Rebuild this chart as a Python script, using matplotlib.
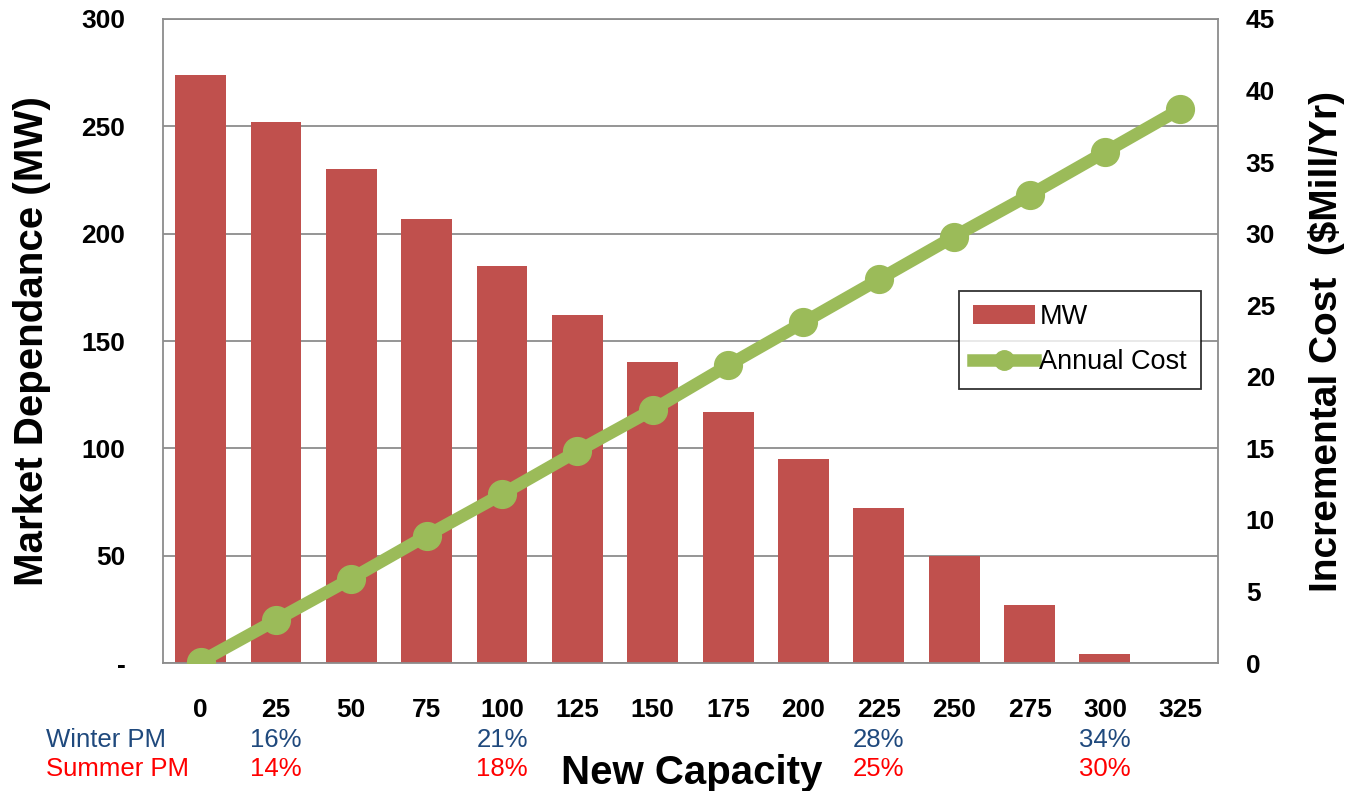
import matplotlib.pyplot as plt
from matplotlib.ticker import FuncFormatter
import numpy as np

plt.rcParams['font.family'] = ['Liberation Sans', 'DejaVu Sans']

# Data
capacity = ['0', '25', '50', '75', '100', '125', '150', '175', '200', '225', '250', '275', '300', '325']
mw = [274, 252, 230, 207, 185, 162, 140, 117, 95, 72, 50, 27, 4, 0]
annual_cost = [0.1, 3.0, 5.9, 8.9, 11.8, 14.8, 17.7, 20.8, 23.8, 26.8, 29.8, 32.7, 35.7, 38.7]

pm_idx = [1, 4, 9, 12]
winter_pm = ['16%', '21%', '28%', '34%']
summer_pm = ['14%', '18%', '25%', '30%']

bar_color = '#C0504D'
line_color = '#9BBB59'
grid_color = '#8C8C8C'

fig = plt.figure(figsize=(13.5, 7.91), dpi=100)
ax = fig.add_axes([0.1207, 0.1618, 0.7815, 0.8142])
x = np.arange(len(capacity))

bars = ax.bar(x, mw, width=0.675, color=bar_color, label='MW', zorder=2)
ax.set_xlim(-0.5, len(capacity) - 0.5)
ax.set_ylim(0, 300)
ax.set_yticks(np.arange(0, 301, 50))
ax.yaxis.set_major_formatter(FuncFormatter(lambda v, p: '-' if v == 0 else '%d' % v))
ax.set_xticks(x)
ax.set_xticklabels(capacity)
ax.grid(axis='y', color=grid_color, linewidth=1.3, zorder=0)
ax.set_axisbelow(True)
for s in ax.spines.values():
    s.set_color(grid_color)
    s.set_linewidth(1.3)
ax.tick_params(axis='both', length=0, labelsize=19)
ax.tick_params(axis='x', pad=25)
ax.tick_params(axis='y', pad=27)
for lab in ax.get_xticklabels() + ax.get_yticklabels():
    lab.set_fontweight('bold')
ax.set_ylabel('Market Dependance (MW)', fontsize=29, fontweight='bold', labelpad=22)

ax2 = ax.twinx()
line, = ax2.plot(x, annual_cost, color=line_color, linewidth=9, marker='o',
                 markersize=20, label='Annual Cost', zorder=3)
ax2.set_ylim(0, 45)
ax2.set_yticks(np.arange(0, 46, 5))
ax2.tick_params(axis='y', length=0, labelsize=19, pad=20)
for lab in ax2.get_yticklabels():
    lab.set_fontweight('bold')
for s in ax2.spines.values():
    s.set_visible(False)
ax2.set_ylabel('Incremental Cost  ($Mill/Yr)', fontsize=28, fontweight='bold', labelpad=24)

leg = ax2.legend([bars, line], ['MW', 'Annual Cost'], loc='upper left',
                 bbox_to_anchor=(0.755, 0.578), fontsize=19.5, frameon=True,
                 fancybox=False, edgecolor='black', handlelength=2.3,
                 borderpad=0.5, labelspacing=0.7, handletextpad=0.15,
                 borderaxespad=0, markerscale=0.7)
leg.get_frame().set_linewidth(1.3)

# percentage rows under the axis
trans = ax.get_xaxis_transform()
ax.text(-2.05, -0.119, 'Winter PM', transform=trans, color='#1F497D', fontsize=18.5,
        ha='left', va='center')
ax.text(-2.05, -0.164, 'Summer PM', transform=trans, color='#FF0000', fontsize=18.5,
        ha='left', va='center')
for i, w, s in zip(pm_idx, winter_pm, summer_pm):
    ax.text(i, -0.119, w, transform=trans, color='#1F497D', fontsize=18.5, ha='center', va='center')
    ax.text(i, -0.164, s, transform=trans, color='#FF0000', fontsize=18.5, ha='center', va='center')

ax.text(0.501, -0.17, 'New Capacity', transform=ax.transAxes, fontsize=29,
        fontweight='bold', ha='center', va='center')

fig.savefig('out.png', dpi=100)
